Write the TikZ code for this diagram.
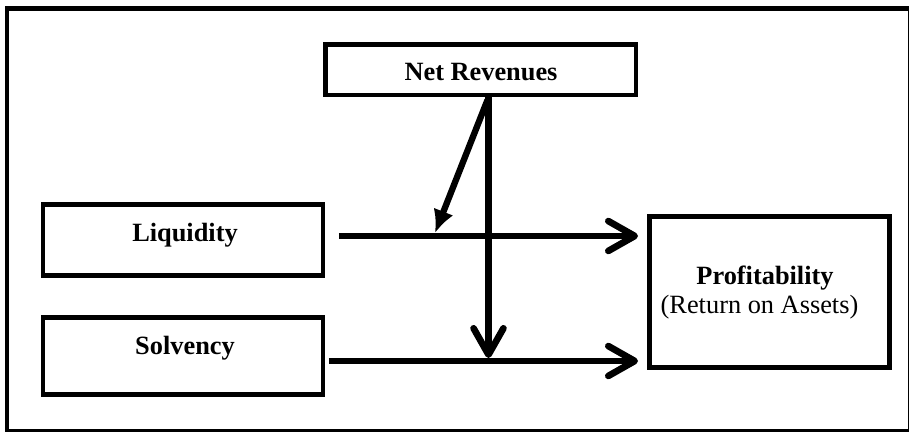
\documentclass[tikz,border=0pt]{standalone}
\usepackage{fontspec}
\setmainfont{Liberation Serif}
\usetikzlibrary{arrows.meta,calc}

\begin{document}
\begin{tikzpicture}[x=0.02cm,y=-0.02cm]
    %
    % `box' is the frame of each variable, `varname' its text.
    % `flow' is a direct effect, `moder' the moderating arrow.
    \tikzstyle{box} = [draw,line width=2.8pt,outer sep=0pt,inner sep=0pt,minimum width=5.6cm]
    \tikzstyle{varname} = [font=\fontsize{15}{16.7}\selectfont\bfseries,anchor=base,inner sep=0pt]
    \tikzstyle{flow} = [line width=3.8pt,-{Straight Barb[round,length=15pt,width=17pt]}]
    \tikzstyle{moder} = [line width=3.6pt,-{Latex[length=13pt,width=12pt]}]
    %
    % Frame
    \useasboundingbox (0,0) rectangle (909,432);
    \draw[line width=2.8pt] (7,8.5) rectangle (910,431.5);
    %
    % Boxes
    \node[box,minimum width=6.21cm,minimum height=1.01cm] (nr) at (480.75,69.75) {};
    \node[box,minimum height=1.42cm] (liq) at (183,240) {};
    \node[box,minimum height=1.54cm] (solv) at (183,356) {};
    \node[box,minimum width=4.8cm,minimum height=3.02cm] (prof) at (769.5,292) {};
    %
    % Texts
    \node[varname] (nrname) at (481,81) {Net Revenues};
    \node[varname] (liqname) at (185,241) {Liquidity};
    \node[varname] (solvname) at (185,354) {Solvency};
    \node[varname] (profname) at (765,284) {Profitability};
    \node[varname,font=\fontsize{15}{16.7}\selectfont] (roa) at (759.5,313.5) {(Return on Assets)};
    %
    % Arrows
    \coordinate (nrfoot) at ($(nr.south)+(7.75,0)$);
    \coordinate (liqhit) at (435,233);
    \coordinate (solvhit) at (488.5,358);
    \draw[flow] ($(liq.east)+(16,-4)$) -- ($(liq.east -| prof.west)+(-11.5,-4)$);
    \draw[flow] ($(solv.east)+(6,5)$) -- ($(solv.east -| prof.west)+(-11.5,5)$);
    \draw[flow] (nrfoot) -- (solvhit);
    \draw[moder] ($(nrfoot)+(-1,5)$) -- (liqhit);
    %
\end{tikzpicture}
\end{document}
